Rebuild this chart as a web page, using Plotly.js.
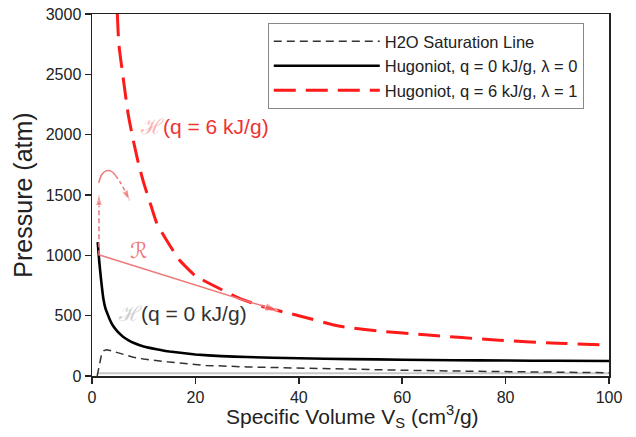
<!DOCTYPE html>
<html><head><meta charset="utf-8">
<script src="https://cdn.plot.ly/plotly-3.0.1.min.js"></script>
<style>html,body{margin:0;padding:0;background:#fff}#chart{width:636px;height:437px}</style>
</head><body><div id="chart"></div>
<script>
// H2O saturation line
const satV = [1.0, 1.3, 1.6, 1.9, 2.3, 2.8, 3.5, 4.5, 6, 8, 10, 12.5, 15, 19, 22, 30, 40, 50, 60, 70, 80, 90, 100];
const satP = [0, 60, 140, 190, 210, 218, 212, 198, 178, 155, 140, 127, 115, 100, 88, 75, 64, 55, 48, 41, 35, 30, 27];
// Hugoniot q = 0
const hug0V = [1.1, 1.4, 1.8, 2.2, 2.6, 3.0, 3.5, 4, 5, 6, 7, 8, 10, 12.5, 15, 20, 25, 30, 40, 50, 60, 70, 80, 90, 100];
const hug0P = [1110, 950, 780, 640, 560, 515, 462, 420, 365, 326, 298, 276, 245, 222, 203, 178, 165, 157, 147, 140, 135, 131, 128, 126, 124];
// Hugoniot q = 6
const hug6V = [4.9, 5.2, 6.0, 7.0, 8.0, 9.0, 10.0, 11.5, 12.5, 14.4, 16.9, 18.8, 20, 23.3, 28.5, 34.2, 40, 48, 55, 65, 78, 90, 100];
const hug6P = [3000, 2750, 2480, 2170, 1950, 1760, 1600, 1400, 1270, 1127, 961, 878, 830, 754, 644, 561, 500, 412, 375, 340, 298, 272, 255];
// light grey reference line near zero
const baseV = [1.0, 100];
const baseP = [22, 22];
// Rayleigh line R
const rayV = [1.3, 36];
const rayP = [1005, 540];
// vertical dashed jump arrow
const upV = [1.35, 1.35];
const upP = [1000, 1500];
// curled arrow (solid part, dashed part)
const curlSolidV = [1.3, 1.9, 2.7, 3.6, 4.5];
const curlSolidP = [1600, 1670, 1700, 1700, 1665];
const curlDashV = [4.5, 5.4, 6.3, 7.3];
const curlDashP = [1665, 1610, 1540, 1455];
// labels
const labelH6 = {v: 8.9, p: 2066};
const labelH0 = {v: 4.6, p: 520};
const labelR = {v: 9.0, p: 1040};
const xTicks = [0, 20, 40, 60, 80, 100];
const yTicks = [0, 500, 1000, 1500, 2000, 2500, 3000];
const xTitle = 'Specific Volume V<sub>S</sub> (cm<sup>3</sup>/g)';
const yTitle = 'Pressure (atm)';

const FONT = 'Liberation Sans, Arial, Helvetica, sans-serif';
const PINK = '#f07878';

function arrowSizes(n, s) { const a = new Array(n).fill(0); a[n - 1] = s; return a; }

const traces = [
  {x: baseV, y: baseP, mode: 'lines', line: {color: '#c8c8c8', width: 2}, showlegend: false, hoverinfo: 'skip'},
  {x: satV, y: satP, mode: 'lines', name: 'H2O Saturation Line', line: {color: '#333333', width: 1.5, dash: '8px,5px'}},
  {x: hug0V, y: hug0P, mode: 'lines', name: 'Hugoniot, q = 0 kJ/g, λ = 0', line: {color: '#000000', width: 2.6, shape: 'spline', smoothing: 0.3}},
  {x: hug6V, y: hug6P, mode: 'lines', name: 'Hugoniot, q = 6 kJ/g, λ = 1', line: {color: '#ff1a1a', width: 3, dash: '22px,10px', shape: 'spline', smoothing: 0.6}},
  {x: rayV, y: rayP, mode: 'lines+markers', line: {color: PINK, width: 1.5}, marker: {symbol: 'arrow', angleref: 'previous', size: arrowSizes(rayV.length, 14), color: PINK}, showlegend: false, hoverinfo: 'skip'},
  {x: upV, y: upP, mode: 'lines+markers', line: {color: PINK, width: 1.5, dash: '5px,3px'}, marker: {symbol: 'arrow', angleref: 'previous', size: arrowSizes(upV.length, 11), color: PINK}, showlegend: false, hoverinfo: 'skip'},
  {x: curlSolidV, y: curlSolidP, mode: 'lines', line: {color: PINK, width: 1.5, shape: 'spline'}, showlegend: false, hoverinfo: 'skip'},
  {x: curlDashV, y: curlDashP, mode: 'lines+markers', line: {color: PINK, width: 1.5, dash: '4px,3px', shape: 'spline'}, marker: {symbol: 'arrow', angleref: 'previous', size: arrowSizes(curlDashV.length, 11), color: PINK}, showlegend: false, hoverinfo: 'skip'}
];

const layout = {
  width: 636, height: 437,
  margin: {l: 92, r: 27, t: 14, b: 61},
  paper_bgcolor: '#fff', plot_bgcolor: '#fff',
  font: {family: FONT, color: '#222', size: 16},
  showlegend: true,
  legend: {
    x: 0.34, y: 0.975, xanchor: 'left', yanchor: 'top',
    bordercolor: '#888', borderwidth: 1, bgcolor: '#fff',
    font: {family: FONT, size: 16.5, color: '#222'},
    itemwidth: 106
  },
  xaxis: {
    range: [0, 100], tickvals: xTicks, ticktext: xTicks.map(String),
    ticks: 'outside', ticklen: 6, tickwidth: 1.5, tickcolor: '#222',
    showline: true, linecolor: '#222', linewidth: 1.5, mirror: true,
    showgrid: false, zeroline: false,
    tickfont: {family: FONT, size: 16, color: '#222'}
  },
  yaxis: {
    range: [0, 3000], tickvals: yTicks, ticktext: yTicks.map(String),
    ticks: 'outside', ticklen: 6, tickwidth: 1.5, tickcolor: '#222',
    showline: true, linecolor: '#222', linewidth: 1.5, mirror: true,
    showgrid: false, zeroline: false,
    tickfont: {family: FONT, size: 16, color: '#222'},
    title: {text: yTitle, font: {family: FONT, size: 25, color: '#222'}, standoff: 6}
  },
  annotations: [
    {x: 0.503, y: -0.112, xref: 'paper', yref: 'paper', xanchor: 'center', yanchor: 'middle', showarrow: false,
     text: xTitle, font: {family: FONT, size: 21, color: '#222'}},
    {x: labelH6.v, y: labelH6.p, xref: 'x', yref: 'y', xanchor: 'left', yanchor: 'middle', showarrow: false,
     text: '<span style="color:#f7b5b5">ℋ</span>(q = 6 kJ/g)', font: {family: FONT, size: 21, color: '#ee3333'}},
    {x: labelH0.v, y: labelH0.p, xref: 'x', yref: 'y', xanchor: 'left', yanchor: 'middle', showarrow: false,
     text: '<span style="color:#cfcfcf">ℋ</span>(q = 0 kJ/g)', font: {family: FONT, size: 21, color: '#333333'}},
    {x: labelR.v, y: labelR.p, xref: 'x', yref: 'y', xanchor: 'center', yanchor: 'middle', showarrow: false,
     text: '<i>ℛ</i>', font: {family: 'DejaVu Sans, sans-serif', size: 22, color: PINK}}
  ]
};

Plotly.newPlot('chart', traces, layout, {displayModeBar: false, staticPlot: true});
</script>
</body></html>
